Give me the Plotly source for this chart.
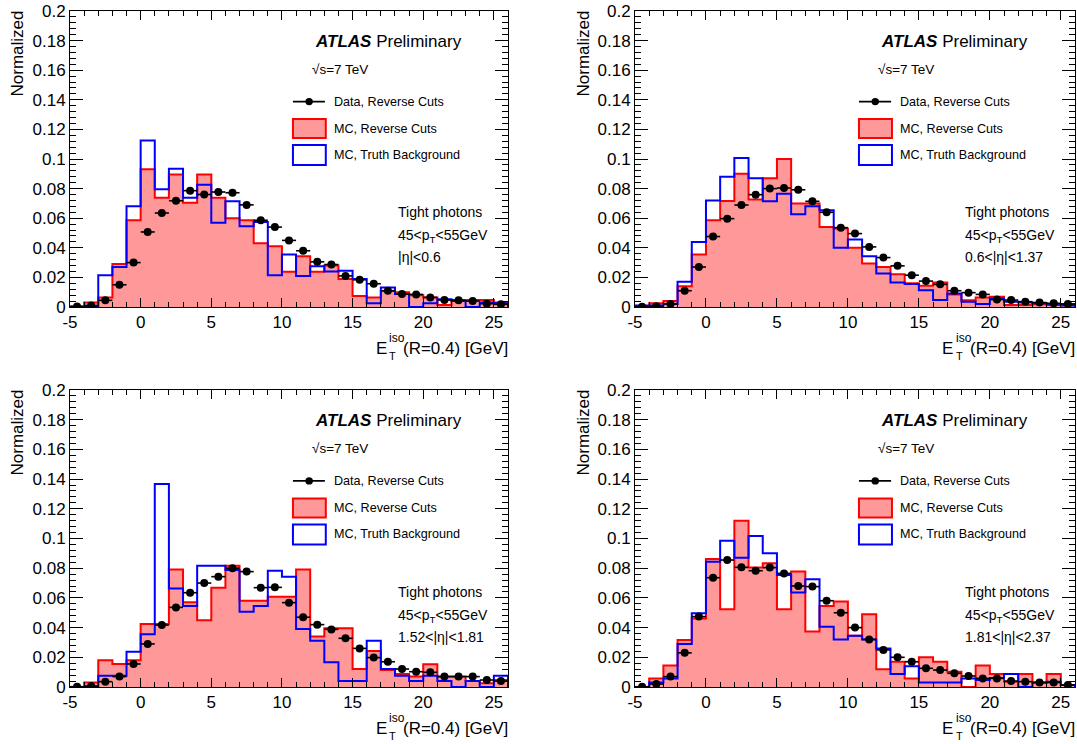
import numpy as np
import plotly.graph_objects as go

# ---------------- data ----------------
bin_edges = np.arange(-5, 27)          # 31 bins of 1 GeV, from -5 to 26
bin_centers = bin_edges[:-1] + 0.5

x_tick_vals = [-5, 0, 5, 10, 15, 20, 25]
x_tick_text = ["-5", "0", "5", "10", "15", "20", "25"]
y_tick_vals = [0, 0.02, 0.04, 0.06, 0.08, 0.1, 0.12, 0.14, 0.16, 0.18, 0.2]
y_tick_text = ["0", "0.02", "0.04", "0.06", "0.08", "0.1", "0.12", "0.14", "0.16", "0.18", "0.2"]

eta_labels = ["|η|&lt;0.6", "0.6&lt;|η|&lt;1.37", "1.52&lt;|η|&lt;1.81", "1.81&lt;|η|&lt;2.37"]

data_tl = [0.0003, 0.001, 0.0045, 0.015, 0.030, 0.0507, 0.0635, 0.0718, 0.0786, 0.076, 0.0777,
           0.0772, 0.069, 0.0586, 0.054, 0.045, 0.038, 0.0305, 0.0287, 0.021, 0.0184, 0.0157,
           0.011, 0.0088, 0.0085, 0.0065, 0.0047, 0.0045, 0.004, 0.0022, 0.0018]
red_tl = [0.0005, 0.003, 0.0065, 0.029, 0.0586, 0.093, 0.0738, 0.0896, 0.0705, 0.0896, 0.0738,
          0.060, 0.0586, 0.043, 0.041, 0.0238, 0.0343, 0.0238, 0.028, 0.019, 0.0075, 0.0065,
          0.0108, 0.010, 0.008, 0.0065, 0.0013, 0.0047, 0.0047, 0.0047, 0.003]
blue_tl = [0.0, 0.0, 0.0215, 0.027, 0.068, 0.1125, 0.0795, 0.0934, 0.0738, 0.0826, 0.057,
           0.0714, 0.0545, 0.0575, 0.0215, 0.0355, 0.021, 0.0276, 0.024, 0.0245, 0.019, 0.0025,
           0.0132, 0.0088, 0.0, 0.0025, 0.0052, 0.004, 0.0, 0.003, 0.0025]

data_tr = [0.0002, 0.0005, 0.002, 0.011, 0.027, 0.0476, 0.0597, 0.0689, 0.0759, 0.080, 0.0804,
           0.0792, 0.0714, 0.064, 0.0536, 0.0496, 0.0406, 0.0334, 0.0278, 0.0215, 0.0175, 0.0153,
           0.011, 0.0097, 0.0085, 0.005, 0.0047, 0.0036, 0.003, 0.0025, 0.002]
red_tr = [0.0, 0.0025, 0.004, 0.014, 0.0355, 0.0586, 0.0716, 0.090, 0.0727, 0.087, 0.100,
          0.070, 0.070, 0.054, 0.053, 0.040, 0.0294, 0.027, 0.0222, 0.016, 0.0144, 0.0166,
          0.0085, 0.0045, 0.0065, 0.007, 0.0013, 0.0013, 0.0018, 0.0013, 0.002]
blue_tr = [0.001, 0.001, 0.002, 0.017, 0.044, 0.072, 0.088, 0.1006, 0.087, 0.0714, 0.0765,
           0.0626, 0.068, 0.0653, 0.040, 0.0456, 0.0343, 0.0227, 0.0166, 0.0155, 0.0114, 0.0047,
           0.0092, 0.0035, 0.002, 0.0058, 0.0036, 0.003, 0.0025, 0.0018, 0.001]

data_bl = [0.0002, 0.0007, 0.0036, 0.007, 0.0155, 0.029, 0.0417, 0.0536, 0.0635, 0.070, 0.0743,
           0.080, 0.0777, 0.0669, 0.0671, 0.0568, 0.047, 0.042, 0.0388, 0.0328, 0.026, 0.0198,
           0.017, 0.0121, 0.0103, 0.0099, 0.007, 0.007, 0.007, 0.0047, 0.004]
red_bl = [0.0, 0.003, 0.018, 0.0155, 0.018, 0.0424, 0.0424, 0.0792, 0.057, 0.045, 0.0669,
          0.0817, 0.058, 0.058, 0.0608, 0.0608, 0.0792, 0.034, 0.0395, 0.0395, 0.0121, 0.0242,
          0.0114, 0.0088, 0.007, 0.0153, 0.007, 0.007, 0.004, 0.0025, 0.0047]
blue_bl = [0.0, 0.0, 0.0076, 0.0076, 0.0238, 0.0355, 0.1367, 0.0664, 0.0545, 0.0817, 0.0817,
           0.0788, 0.0507, 0.0545, 0.0783, 0.0743, 0.039, 0.0312, 0.0166, 0.004, 0.004, 0.0312,
           0.0121, 0.0076, 0.004, 0.0076, 0.004, 0.0, 0.004, 0.0, 0.0076]

data_br = [0.0002, 0.002, 0.007, 0.023, 0.0474, 0.0736, 0.0855, 0.0806, 0.0783, 0.0804, 0.0765,
           0.068, 0.0676, 0.0581, 0.050, 0.040, 0.032, 0.025, 0.020, 0.017, 0.0126, 0.0114,
           0.0092, 0.0074, 0.0058, 0.0058, 0.004, 0.0036, 0.003, 0.003, 0.0013]
red_br = [0.0, 0.0058, 0.0144, 0.0316, 0.0462, 0.0862, 0.0523, 0.112, 0.0804, 0.0833, 0.0523,
          0.0777, 0.0373, 0.0545, 0.0575, 0.0345, 0.049, 0.0119, 0.017, 0.0058, 0.020, 0.017,
          0.0103, 0.0, 0.0144, 0.0088, 0.0036, 0.0088, 0.003, 0.0088, 0.0013]
blue_br = [0.0, 0.003, 0.0058, 0.029, 0.0496, 0.0844, 0.0985, 0.0871, 0.1017, 0.090, 0.0754,
           0.0637, 0.0725, 0.0406, 0.032, 0.0345, 0.032, 0.026, 0.0088, 0.014, 0.003, 0.003,
           0.003, 0.0058, 0.0047, 0.006, 0.0088, 0.0, 0.003, 0.0036, 0.0013]

panels = [
    dict(data=data_tl, red=red_tl, blue=blue_tl, eta=eta_labels[0]),
    dict(data=data_tr, red=red_tr, blue=blue_tr, eta=eta_labels[1]),
    dict(data=data_bl, red=red_bl, blue=blue_bl, eta=eta_labels[2]),
    dict(data=data_br, red=red_br, blue=blue_br, eta=eta_labels[3]),
]

# ---------------- layout geometry ----------------
W, H = 1077, 744
FONT = "Liberation Sans, Arial, Helvetica, sans-serif"
x_domains = [(70 / W, 508 / W), (635 / W, 1075 / W)]
y_domains = [(1 - 307 / H, 1 - 11 / H), (1 - 687 / H, 1 - 390 / H)]
ytitle_x = [17 / W, 583 / W]
ytitle_y = [1 - 53.5 / H, 1 - 432.5 / H]

RED_FILL = "#ff9999"
RED = "#ff0000"
BLUE = "#0000ff"


def step_xy(vals):
    xs = [bin_edges[0]] + list(bin_edges[:-1]) + [bin_edges[-1], bin_edges[-1]]
    ys = [0] + list(vals) + [vals[-1], 0]
    return xs, ys


fig = go.Figure()
annotations = []
shapes = []
layout_axes = {}

for i, p in enumerate(panels):
    row, col = divmod(i, 2)
    n = "" if i == 0 else str(i + 1)
    xa, ya = "x" + n, "y" + n
    xs, ys = step_xy(p["red"])
    fig.add_trace(go.Scatter(x=xs, y=ys, mode="lines", line=dict(color=RED, width=2, shape="hv"),
                             fill="tozeroy", fillcolor=RED_FILL, xaxis=xa, yaxis=ya,
                             hoverinfo="skip"))
    xs, ys = step_xy(p["blue"])
    fig.add_trace(go.Scatter(x=xs, y=ys, mode="lines", line=dict(color=BLUE, width=2, shape="hv"),
                             xaxis=xa, yaxis=ya, hoverinfo="skip"))
    fig.add_trace(go.Scatter(x=bin_centers, y=p["data"], mode="markers",
                             marker=dict(color="black", size=8),
                             error_x=dict(type="constant", value=0.5, width=0, thickness=1.6,
                                          color="black"),
                             xaxis=xa, yaxis=ya))

    layout_axes["xaxis" + n] = dict(
        domain=list(x_domains[col]), anchor=ya, range=[-5, 26], automargin=False,
        tickmode="array", tickvals=x_tick_vals, ticktext=x_tick_text,
        ticks="inside", ticklen=9, tickwidth=1, tickcolor="black",
        showline=True, linecolor="black", linewidth=1, mirror="ticks",
        showgrid=False, zeroline=False,
        minor=dict(ticks="inside", ticklen=5, tick0=-5, dtick=1, tickcolor="black", showgrid=False),
        tickfont=dict(family=FONT, size=17, color="black"),
    )
    layout_axes["yaxis" + n] = dict(
        domain=list(y_domains[row]), anchor=xa, range=[0, 0.2], automargin=False,
        tickmode="array", tickvals=y_tick_vals, ticktext=y_tick_text,
        ticks="inside", ticklen=13, tickwidth=1, tickcolor="black",
        showline=True, linecolor="black", linewidth=1, mirror="ticks",
        showgrid=False, zeroline=False,
        minor=dict(ticks="inside", ticklen=6, tick0=0, dtick=0.004, tickcolor="black", showgrid=False),
        tickfont=dict(family=FONT, size=17, color="black"),
    )

    xd, yd = xa + " domain", ya + " domain"

    def ann(text, x, y, size, xanchor="left", yanchor="middle", **kw):
        annotations.append(dict(text=text, x=x, y=y, xref=xd, yref=yd, showarrow=False,
                                xanchor=xanchor, yanchor=yanchor,
                                font=dict(family=FONT, size=size, color="black"), **kw))

    ann("<b><i>ATLAS</i></b> Preliminary", 0.555, 0.896, 17)
    ann("√s=7 TeV", 0.548, 0.803, 13.5)
    ann("Data, Reverse Cuts", 0.598, 0.694, 12.6)
    ann("MC, Reverse Cuts", 0.598, 0.602, 12.6)
    ann("MC, Truth Background", 0.598, 0.514, 12.6)
    ann("Tight photons", 0.745, 0.321, 14)
    ann("45&lt;p<sub>T</sub>&lt;55GeV", 0.745, 0.240, 14)
    ann(p["eta"], 0.745, 0.169, 14)
    # x-axis title  E_T^iso(R=0.4) [GeV]
    ann("(R=0.4) [GeV]", 1.005, -0.139, 17, xanchor="right")
    ann("E", 0.728, -0.139, 17, xanchor="right")
    ann("T", 0.724, -0.166, 11)
    ann("iso", 0.724, -0.106, 12)

    annotations.append(dict(text="Normalized", x=ytitle_x[col], y=ytitle_y[row], xref="paper",
                            yref="paper", showarrow=False, textangle=-90, xanchor="center",
                            yanchor="middle", font=dict(family=FONT, size=17, color="black")))

    # legend symbols
    shapes.append(dict(type="line", xref=xd, yref=yd, x0=0.509, x1=0.582, y0=0.694, y1=0.694,
                       line=dict(color="black", width=1.6)))
    shapes.append(dict(type="circle", xref=xd, yref=yd, x0=0.546 - 0.0085, x1=0.546 + 0.0085,
                       y0=0.694 - 0.0125, y1=0.694 + 0.0125, fillcolor="black",
                       line=dict(color="black", width=0)))
    shapes.append(dict(type="rect", xref=xd, yref=yd, x0=0.509, x1=0.584, y0=0.571, y1=0.635,
                       fillcolor=RED_FILL, line=dict(color=RED, width=2)))
    shapes.append(dict(type="rect", xref=xd, yref=yd, x0=0.509, x1=0.584, y0=0.480, y1=0.547,
                       fillcolor="white", line=dict(color=BLUE, width=2)))

fig.update_layout(
    width=W, height=H, margin=dict(l=0, r=0, t=0, b=0, autoexpand=False),
    paper_bgcolor="white", plot_bgcolor="white", showlegend=False,
    font=dict(family=FONT, color="black"),
    annotations=annotations, shapes=shapes, **layout_axes,
)

fig.write_html("out.html")
